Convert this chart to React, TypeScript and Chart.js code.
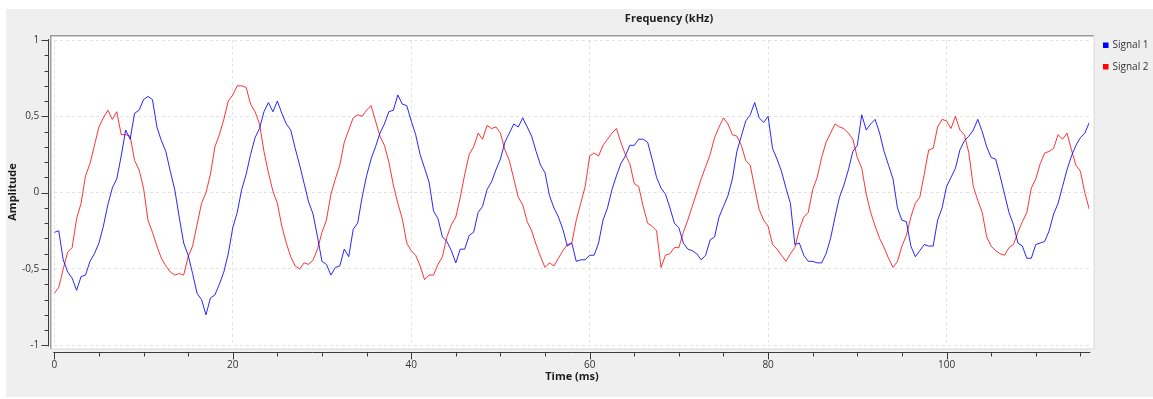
import React, { useEffect, useRef } from "react";
import { Chart, registerables } from "chart.js";

Chart.register(...registerables);

// Sample spacing of both signals (ms)
const SAMPLE_STEP_MS = 0.5;

const seriesLabels = ["Signal 1", "Signal 2"];
const seriesColors = ["rgba(0,0,255,0.85)", "rgba(255,0,0,0.8)"];
const legendColors = ["#0000ff", "#ff0000"];

// Signal 1 (blue), one value every 0.5 ms from 0 to 116 ms
const signal1 = [
  -0.26, -0.25, -0.44, -0.52, -0.56, -0.64, -0.55, -0.54, -0.45, -0.4,
  -0.33, -0.22, -0.08, 0.03, 0.09, 0.24, 0.41, 0.35, 0.52, 0.54,
  0.61, 0.63, 0.61, 0.43, 0.34, 0.27, 0.14, 0.02, -0.16, -0.33,
  -0.41, -0.53, -0.66, -0.7, -0.8, -0.69, -0.67, -0.6, -0.52, -0.4,
  -0.23, -0.13, 0.02, 0.12, 0.25, 0.36, 0.42, 0.53, 0.59, 0.53,
  0.6, 0.52, 0.45, 0.41, 0.29, 0.18, 0.06, -0.06, -0.14, -0.29,
  -0.45, -0.47, -0.54, -0.49, -0.48, -0.37, -0.42, -0.24, -0.2, -0.03,
  0.11, 0.22, 0.3, 0.39, 0.45, 0.53, 0.54, 0.64, 0.58, 0.57,
  0.47, 0.38, 0.25, 0.16, 0.07, -0.12, -0.17, -0.29, -0.32, -0.38,
  -0.46, -0.37, -0.37, -0.28, -0.26, -0.13, -0.09, 0.02, 0.07, 0.15,
  0.22, 0.33, 0.39, 0.45, 0.43, 0.49, 0.43, 0.37, 0.27, 0.18,
  0.13, -0.02, -0.1, -0.16, -0.24, -0.35, -0.33, -0.45, -0.44, -0.44,
  -0.41, -0.41, -0.33, -0.18, -0.1, 0.02, 0.11, 0.19, 0.24, 0.31,
  0.31, 0.35, 0.35, 0.33, 0.22, 0.1, 0.03, -0.01, -0.1, -0.2,
  -0.23, -0.33, -0.37, -0.38, -0.4, -0.44, -0.41, -0.31, -0.29, -0.16,
  -0.09, -0.02, 0.09, 0.27, 0.37, 0.47, 0.51, 0.59, 0.49, 0.46,
  0.5, 0.29, 0.22, 0.14, 0.03, -0.07, -0.34, -0.33, -0.41, -0.45,
  -0.45, -0.46, -0.46, -0.4, -0.3, -0.16, -0.03, 0.05, 0.15, 0.27,
  0.31, 0.51, 0.41, 0.45, 0.48, 0.39, 0.27, 0.18, 0.09, -0.1,
  -0.18, -0.19, -0.35, -0.42, -0.38, -0.34, -0.35, -0.35, -0.18, -0.1,
  0.04, 0.1, 0.16, 0.28, 0.34, 0.37, 0.41, 0.48, 0.4, 0.3,
  0.23, 0.22, 0.11, -0.01, -0.13, -0.21, -0.33, -0.35, -0.43, -0.43,
  -0.34, -0.33, -0.32, -0.25, -0.14, -0.07, 0.04, 0.15, 0.24, 0.31,
  0.36, 0.39, 0.46,
];

// Signal 2 (red), one value every 0.5 ms from 0 to 116 ms
const signal2 = [
  -0.66, -0.62, -0.5, -0.39, -0.36, -0.17, -0.07, 0.11, 0.19, 0.31,
  0.43, 0.49, 0.54, 0.48, 0.53, 0.38, 0.38, 0.37, 0.21, 0.15,
  0.03, -0.18, -0.26, -0.35, -0.43, -0.48, -0.52, -0.54, -0.53, -0.54,
  -0.42, -0.35, -0.21, -0.07, 0.0, 0.12, 0.3, 0.38, 0.48, 0.6,
  0.64, 0.7, 0.7, 0.69, 0.58, 0.53, 0.45, 0.27, 0.13, 0.01,
  -0.07, -0.22, -0.33, -0.42, -0.48, -0.5, -0.46, -0.47, -0.44, -0.37,
  -0.26, -0.18, -0.01, 0.09, 0.18, 0.33, 0.41, 0.49, 0.51, 0.5,
  0.54, 0.57, 0.47, 0.37, 0.31, 0.2, 0.05, -0.07, -0.17, -0.33,
  -0.38, -0.41, -0.48, -0.57, -0.54, -0.54, -0.47, -0.42, -0.29, -0.21,
  -0.16, -0.03, 0.12, 0.25, 0.3, 0.39, 0.35, 0.44, 0.42, 0.43,
  0.39, 0.28, 0.21, 0.09, -0.03, -0.08, -0.19, -0.25, -0.34, -0.42,
  -0.49, -0.46, -0.48, -0.43, -0.38, -0.34, -0.33, -0.18, -0.07, 0.04,
  0.24, 0.26, 0.24, 0.31, 0.35, 0.39, 0.42, 0.33, 0.25, 0.19,
  0.06, 0.04, -0.09, -0.2, -0.22, -0.25, -0.49, -0.41, -0.4, -0.36,
  -0.36, -0.26, -0.18, -0.09, 0.0, 0.09, 0.17, 0.25, 0.36, 0.43,
  0.49, 0.45, 0.38, 0.37, 0.31, 0.21, 0.18, 0.03, -0.11, -0.18,
  -0.22, -0.34, -0.37, -0.41, -0.45, -0.4, -0.36, -0.24, -0.16, -0.13,
  0.02, 0.1, 0.23, 0.33, 0.39, 0.45, 0.43, 0.42, 0.39, 0.35,
  0.23, 0.16, -0.01, -0.13, -0.22, -0.3, -0.36, -0.43, -0.49, -0.45,
  -0.35, -0.28, -0.16, -0.07, -0.03, 0.12, 0.28, 0.29, 0.43, 0.48,
  0.47, 0.42, 0.5, 0.41, 0.38, 0.26, 0.04, -0.05, -0.13, -0.29,
  -0.35, -0.38, -0.4, -0.41, -0.36, -0.34, -0.26, -0.19, -0.13, 0.03,
  0.09, 0.19, 0.26, 0.27, 0.29, 0.38, 0.35, 0.39, 0.28, 0.18,
  0.14, 0.0, -0.11,
];

const X_MIN = 0;
const X_MAX = 116;
const X_MAJOR = 20;
const X_MINOR = 5;
const Y_MIN = -1;
const Y_MAX = 1;
const Y_MAJOR = 0.5;
const Y_MINOR = 0.1;

const xTitle = "Time (ms)";
const yTitle = "Amplitude";
const topTitle = "Frequency (kHz)";

const W = 1153;
const H = 399;
const FONT = "'Open Sans', 'DejaVu Sans', sans-serif";

const decorPlugin = {
  id: "decor",
  beforeDraw(chart: any) {
    const ctx = chart.ctx;
    ctx.save();
    ctx.fillStyle = "#ffffff";
    ctx.fillRect(0, 0, W, H);
    ctx.fillStyle = "#efefef";
    ctx.fillRect(6, 9, W - 6, 388);
    // plot canvas
    ctx.fillStyle = "#ffffff";
    ctx.fillRect(51, 36, 1043, 313);
    ctx.fillStyle = "#9c9c9c";
    ctx.fillRect(50, 35, 1044, 1.5);
    ctx.fillRect(50, 35, 1.5, 314);
    ctx.fillStyle = "#dadada";
    ctx.fillRect(50, 348.5, 1044, 1);
    ctx.fillRect(1093.5, 35, 1, 314);
    ctx.restore();
  },
  afterDraw(chart: any) {
    const ctx = chart.ctx;
    const xs = chart.scales.x;
    const ys = chart.scales.y;
    ctx.save();
    ctx.strokeStyle = "#3a3a3a";
    ctx.lineWidth = 1;
    // y backbone + ticks
    const yAxisX = 48.5;
    ctx.beginPath();
    ctx.moveTo(yAxisX, ys.getPixelForValue(Y_MAX) - 1);
    ctx.lineTo(yAxisX, ys.getPixelForValue(Y_MIN) + 1);
    const nY = Math.round((Y_MAX - Y_MIN) / Y_MINOR);
    for (let i = 0; i <= nY; i++) {
      const v = Y_MIN + i * Y_MINOR;
      const py = Math.round(ys.getPixelForValue(v)) + 0.5;
      const major = i % Math.round(Y_MAJOR / Y_MINOR) === 0;
      ctx.moveTo(yAxisX - (major ? 7 : 4), py);
      ctx.lineTo(yAxisX, py);
    }
    // x backbone + ticks
    const xAxisY = 352.5;
    ctx.moveTo(xs.getPixelForValue(X_MIN) - 1, xAxisY);
    ctx.lineTo(xs.getPixelForValue(X_MAX) + 1, xAxisY);
    for (let v = X_MIN; v <= X_MAX + 1e-9; v += X_MINOR) {
      const px = Math.round(xs.getPixelForValue(v)) + 0.5;
      const major = Math.abs(v / X_MAJOR - Math.round(v / X_MAJOR)) < 1e-9;
      ctx.moveTo(px, xAxisY);
      ctx.lineTo(px, xAxisY + (major ? 7 : 4));
    }
    ctx.stroke();

    // titles
    ctx.fillStyle = "#1e1e1e";
    ctx.font = `bold 11px ${FONT}`;
    ctx.textAlign = "center";
    ctx.textBaseline = "middle";
    ctx.fillText(topTitle, 669, 19);
    ctx.fillText(xTitle, 572, 377);
    ctx.save();
    ctx.translate(13, 192);
    ctx.rotate(-Math.PI / 2);
    ctx.fillText(yTitle, 0, 0);
    ctx.restore();

    // legend
    ctx.font = `10px ${FONT}`;
    ctx.textAlign = "left";
    chart.data.datasets.forEach((ds: any, i: number) => {
      const cy = 45.5 + i * 21.5;
      ctx.fillStyle = legendColors[i];
      ctx.fillRect(1103, cy - 3, 5.5, 5.5);
      ctx.fillStyle = "#333333";
      ctx.fillText(ds.label, 1112.5, cy);
    });
    ctx.restore();
  },
};

export default function App() {
  const ref = useRef<HTMLCanvasElement | null>(null);

  useEffect(() => {
    document.body.style.margin = "0";
    const canvas = ref.current;
    if (!canvas) return;
    const datasets = [signal1, signal2].map((vals, k) => ({
      label: seriesLabels[k],
      data: vals.map((v, i) => ({ x: i * SAMPLE_STEP_MS, y: v })),
      borderColor: seriesColors[k],
      backgroundColor: seriesColors[k],
      borderWidth: 1,
      pointRadius: 0,
      tension: 0,
      fill: false,
    }));

    const chart = new Chart(canvas, {
      type: "line",
      data: { datasets },
      options: {
        responsive: false,
        animation: false,
        events: [],
        layout: { padding: { top: 40, right: W - 1089.3, bottom: 0, left: 0 } },
        plugins: { legend: { display: false }, tooltip: { enabled: false }, title: { display: false } },
        scales: {
          x: {
            type: "linear",
            min: X_MIN,
            max: X_MAX,
            afterFit: (s: any) => {
              s.height = H - 345.3;
            },
            grid: { color: "#e2e2e2", drawTicks: false, lineWidth: 1 },
            border: { display: false, dash: [3, 3] },
            ticks: {
              stepSize: X_MAJOR,
              includeBounds: false,
              autoSkip: false,
              maxRotation: 0,
              padding: 14,
              color: "#333333",
              font: { size: 10, family: FONT },
            },
          },
          y: {
            type: "linear",
            min: Y_MIN,
            max: Y_MAX,
            afterFit: (s: any) => {
              s.width = 54.3;
            },
            grid: { color: "#e2e2e2", drawTicks: false, lineWidth: 1 },
            border: { display: false, dash: [3, 3] },
            ticks: {
              stepSize: Y_MAJOR,
              padding: 15,
              color: "#333333",
              font: { size: 10, family: FONT },
              callback: (v: any) => String(v).replace(".", ","),
            },
          },
        },
      },
      plugins: [decorPlugin],
    });
    return () => chart.destroy();
  }, []);

  return (
    <div style={{ width: W, height: H }}>
      <canvas ref={ref} width={W} height={H} style={{ display: "block", width: W, height: H }} />
    </div>
  );
}
